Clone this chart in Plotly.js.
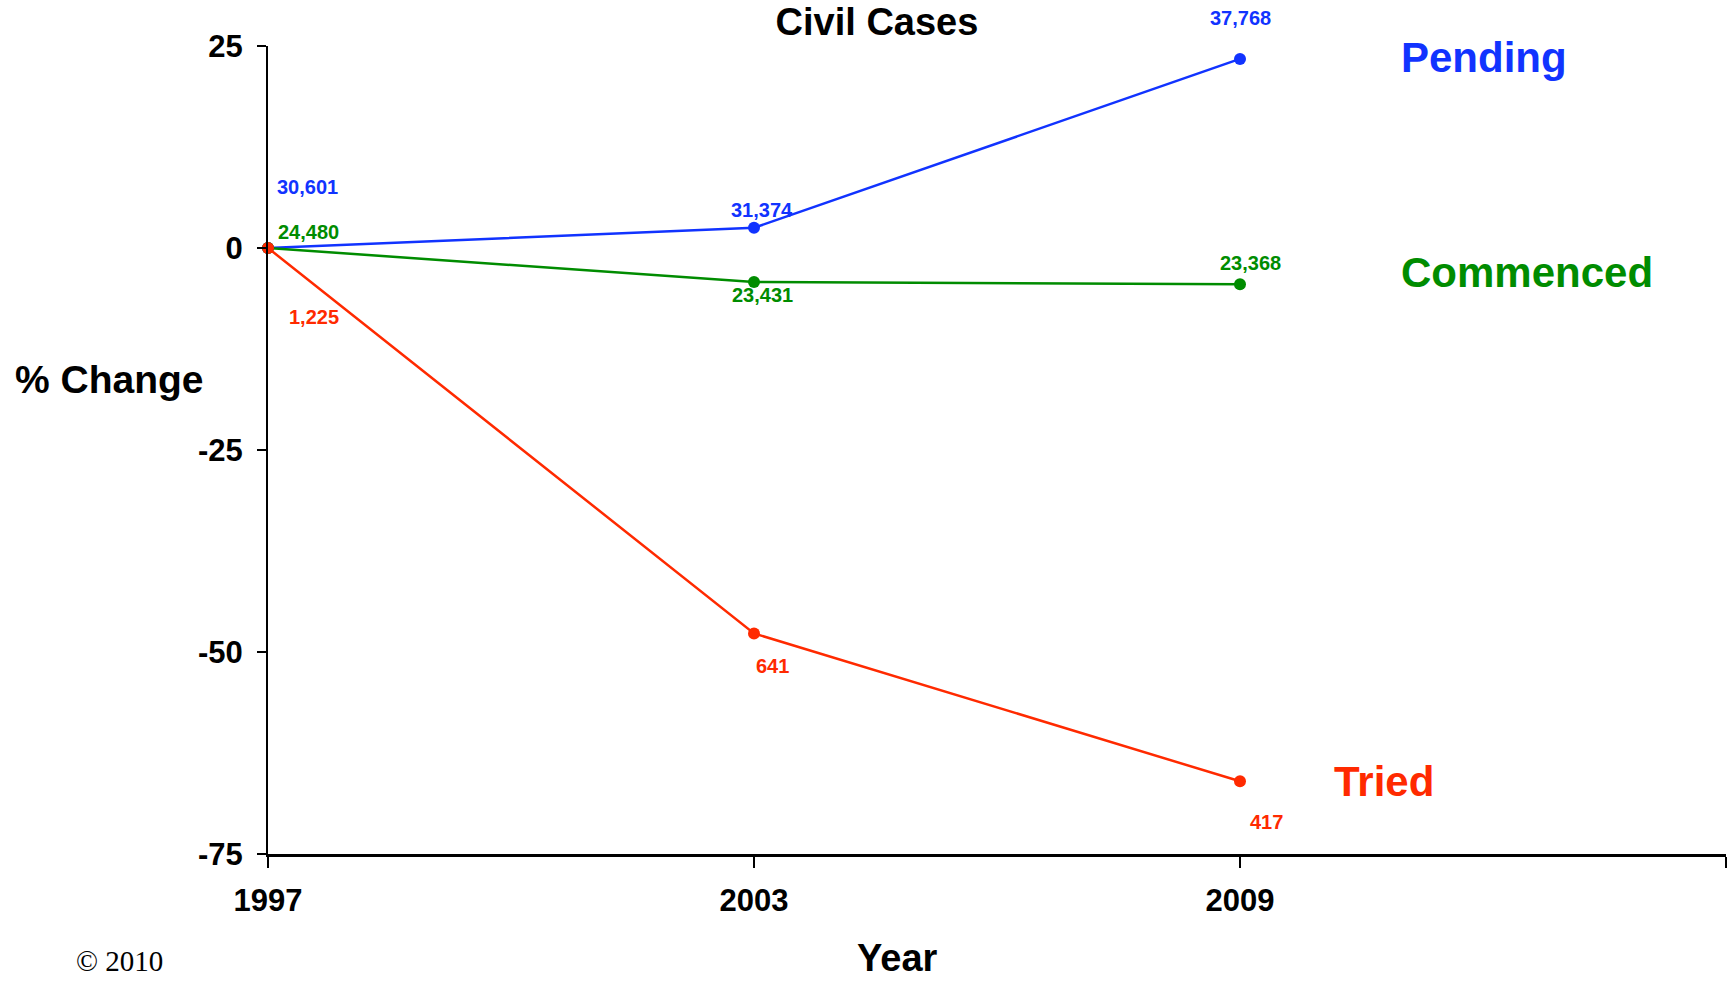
<!DOCTYPE html>
<html>
<head>
<meta charset="utf-8">
<script src="https://cdn.plot.ly/plotly-3.0.1.min.js"></script>
<style>
  html, body { margin: 0; padding: 0; background: #fff; }
  #chart { width: 1727px; height: 981px; }
</style>
</head>
<body>
<div id="chart"></div>
<script>
// ---- data ----
const years = [1997, 2003, 2009];
const seriesNames = ['Pending', 'Commenced', 'Tried'];
const pendingPct = [0, 2.5, 23.4];
const commencedPct = [0, -4.2, -4.5];
const triedPct = [0, -47.7, -66.0];
const pendingLabels = ['30,601', '31,374', '37,768'];
const commencedLabels = ['24,480', '23,431', '23,368'];
const triedLabels = ['1,225', '641', '417'];
const yTickVals = [-75, -50, -25, 0, 25];
const yTickText = ['-75', '-50', '-25', '0', '25'];
const xTickVals = [1997, 2003, 2009, 2015];
const xTickText = ['1997', '2003', '2009', ''];
const chartTitle = 'Civil Cases';
const xTitle = 'Year';
const yTitle = '% Change';
const copyright = '\u00A9 2010';

// ---- styling ----
const FONT = 'Liberation Sans, Arial, Helvetica, sans-serif';
const colors = { Pending: '#1133ff', Commenced: '#008c00', Tried: '#ff2a00' };
const seriesValues = { Pending: pendingPct, Commenced: commencedPct, Tried: triedPct };
const seriesLabels = { Pending: pendingLabels, Commenced: commencedLabels, Tried: triedLabels };

const M = { l: 268, r: 1, t: 46, b: 127 };
const PW = 1727 - M.l - M.r, PH = 981 - M.t - M.b;

// pixel offsets of the value labels relative to their points
const labelShift = {
  Pending:   [[39, 61], [8, 18], [0, 41]],
  Commenced: [[40, 16], [8, -13], [10, 21]],
  Tried:     [[46, -69], [18, -33], [26, -41]]
};
// pixel offsets of the series name labels relative to last point
const nameShift = { Pending: [159, 1], Commenced: [159, 12], Tried: [92, 0] };

const traces = seriesNames.map(name => ({
  type: 'scatter',
  mode: 'lines+markers',
  name: name,
  x: years,
  y: seriesValues[name],
  line: { color: colors[name], width: 2.5 },
  marker: { color: colors[name], size: 12 },
  cliponaxis: false,
  hoverinfo: 'x+y'
}));

const annotations = [];
seriesNames.forEach(name => {
  seriesLabels[name].forEach((txt, i) => {
    annotations.push({
      x: years[i], y: seriesValues[name][i], xref: 'x', yref: 'y',
      text: txt, showarrow: false,
      xshift: labelShift[name][i][0], yshift: labelShift[name][i][1],
      xanchor: 'center', yanchor: 'middle',
      font: { family: FONT, size: 20, color: colors[name], weight: 'bold' }
    });
  });
  const last = years.length - 1;
  annotations.push({
    x: years[last], y: seriesValues[name][last], xref: 'x', yref: 'y',
    text: name, showarrow: false,
    xshift: nameShift[name][0], yshift: nameShift[name][1],
    xanchor: 'left', yanchor: 'middle',
    font: { family: FONT, size: 42, color: colors[name], weight: 'bold' }
  });
});

// axis titles and copyright
annotations.push({
  xref: 'paper', yref: 'paper', x: (13 - M.l) / PW, y: (981 - M.b - 379) / PH,
  xanchor: 'left', yanchor: 'middle', showarrow: false, text: yTitle,
  font: { family: FONT, size: 39, color: '#000', weight: 'bold' }
});
annotations.push({
  xref: 'paper', yref: 'paper', x: (897 - M.l) / PW, y: -(958 - (981 - M.b)) / PH,
  xanchor: 'center', yanchor: 'middle', showarrow: false, text: xTitle,
  font: { family: FONT, size: 38, color: '#000', weight: 'bold' }
});
annotations.push({
  xref: 'paper', yref: 'paper', x: (74 - M.l) / PW, y: -(961 - (981 - M.b)) / PH,
  xanchor: 'left', yanchor: 'middle', showarrow: false, text: copyright,
  font: { family: 'Liberation Serif, Times New Roman, serif', size: 29, color: '#000' }
});

const layout = {
  width: 1727, height: 981,
  paper_bgcolor: '#fff', plot_bgcolor: '#fff',
  showlegend: false,
  margin: { l: M.l, r: M.r, t: M.t, b: M.b, pad: 0 },
  title: {
    text: chartTitle, x: 877 / 1727, xanchor: 'center',
    y: 1 - 8 / 981, yanchor: 'top', yref: 'container',
    font: { family: FONT, size: 38, color: '#000', weight: 'bold' }
  },
  xaxis: {
    range: [1997, 2015], tickvals: xTickVals, ticktext: xTickText,
    showgrid: false, zeroline: false,
    showline: true, linecolor: '#000', linewidth: 3,
    ticks: 'outside', ticklen: 11, tickwidth: 2, tickcolor: '#000',
    ticklabelstandoff: 6,
    tickfont: { family: FONT, size: 31, color: '#000', weight: 'bold' }
  },
  yaxis: {
    range: [-75, 25], tickvals: yTickVals, ticktext: yTickText,
    showgrid: false, zeroline: false,
    showline: true, linecolor: '#000', linewidth: 2,
    ticks: 'outside', ticklen: 9, tickwidth: 2, tickcolor: '#000',
    ticklabelstandoff: 8,
    tickfont: { family: FONT, size: 31, color: '#000', weight: 'bold' }
  },
  annotations: annotations
};

Plotly.newPlot('chart', traces, layout, { displayModeBar: false, responsive: false });
</script>
</body>
</html>
